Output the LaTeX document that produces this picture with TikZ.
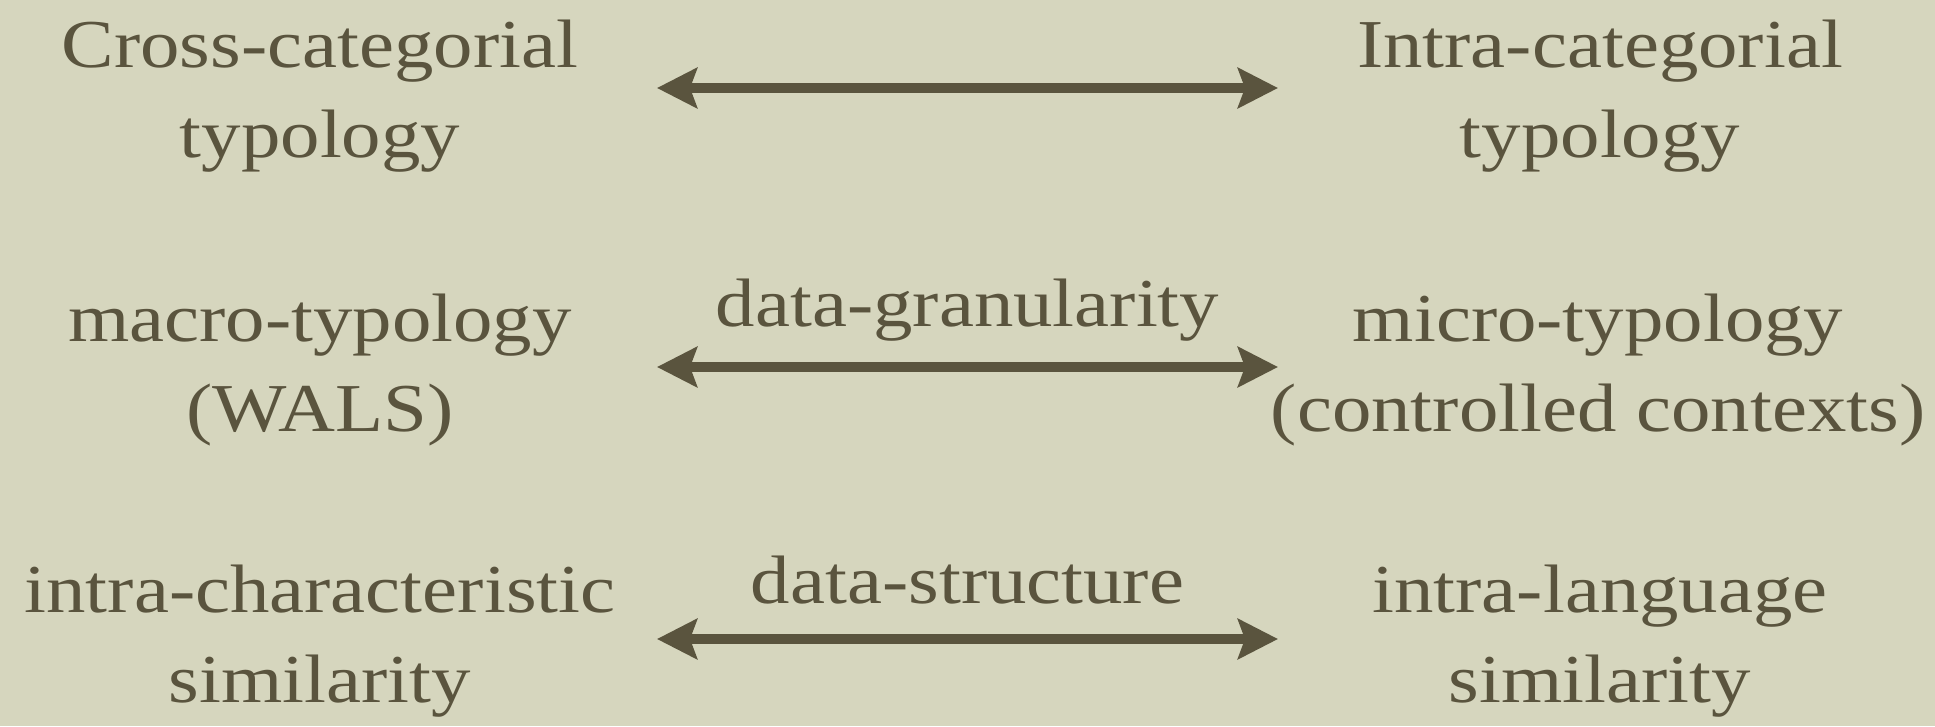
\documentclass[tikz,border=0pt]{standalone}
\usepackage{fontspec}
\setmainfont{Liberation Serif}[FakeStretch=1.15]
\usepackage{tikz}
\usetikzlibrary{arrows.meta}

\definecolor{paper}{RGB}{214,214,190}
\definecolor{ink}{RGB}{90,84,62}

\begin{document}
\begin{tikzpicture}[x=0.1mm,y=-0.1mm,
  term/.style={text=ink,align=center,inner sep=0pt,font=\fontsize{19.5}{25.6}\selectfont},
  tag/.style={term,anchor=base},
  link/.style={draw=ink,line width=3pt,
    {Stealth[length=4mm,width=4mm,inset=0.7mm]}-{Stealth[length=4mm,width=4mm,inset=0.7mm]}}]
\fill [paper] (0,0) rectangle (1935,726);
% left column
\node [term] (cross) at (320,96) {Cross-categorial\\typology};
\node [term] (macro) at (320,370) {macro-typology\\(WALS)};
\node [term] (charsim) at (320,641) {intra-characteristic\\similarity};
% right column
\node [term] (intra) at (1600,96) {Intra-categorial\\typology};
\node [term] (micro) at (1598,370) {micro-typology\\(controlled contexts)};
\node [term] (langsim) at (1600,641) {intra-language\\similarity};
% arrow ends
\coordinate (a1) at (657,88);
\coordinate (b1) at (1278,88);
\coordinate (a2) at (657,367);
\coordinate (b2) at (1278,367);
\coordinate (a3) at (657,639);
\coordinate (b3) at (1278,639);
\draw [link] (a1) -- (b1);
\draw [link] (a2) -- node [tag,yshift=4.1mm] (gran) {data-granularity} (b2);
\draw [link] (a3) -- node [tag,yshift=3.6mm] (struct) {data-structure} (b3);
\end{tikzpicture}
\end{document}
